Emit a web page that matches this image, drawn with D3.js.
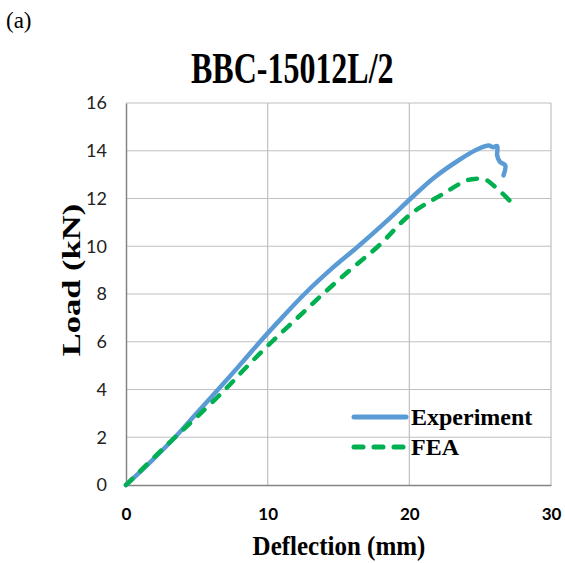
<!DOCTYPE html>
<html><head><meta charset="utf-8">
<script src="https://cdn.jsdelivr.net/npm/d3@7"></script>
<style>body{margin:0;background:#fff}svg{display:block}</style>
</head><body>
<script>
const title = "BBC-15012L/2";
const panelLabel = "(a)";
const xTitle = "Deflection (mm)";
const yTitle = "Load (kN)";
const xTicks = [0, 10, 20, 30];
const yTicks = [0, 2, 4, 6, 8, 10, 12, 14, 16];
const seriesNames = ["Experiment", "FEA"];
const expDeflection = [0, 1.7, 3.46, 5, 6.5, 8, 9.46, 11, 12.6, 14.5, 16.4, 18.3, 20.1, 21.7, 23.35, 24.77, 25.6, 25.9, 26.2, 26.2, 26.4, 26.77, 26.65];
const expLoad =       [0, 0.95, 2, 3.02, 4, 5, 6, 7, 8, 9.05, 10, 11, 12, 12.85, 13.55, 14.05, 14.22, 14.15, 14.2, 13.8, 13.53, 13.39, 12.97];
const feaDeflection = [0, 3.46, 5, 7.0, 8.6, 10.3, 12.1, 13.9, 15.8, 17.8, 20.1, 22.2, 24.06, 24.77, 25.35, 26.2, 27.1];
const feaLoad =       [0, 2, 2.85, 4, 5, 6, 7, 8, 9, 10, 11.35, 12.13, 12.76, 12.83, 12.8, 12.41, 11.9];

const W = 565, H = 563;
const svg = d3.select("body").append("svg").attr("width", W).attr("height", H);
const x = d3.scaleLinear().domain([0, 30]).range([126, 551]);
const y = d3.scaleLinear().domain([0, 16]).range([485, 103]);

// gridlines
svg.append("g").selectAll("line").data(yTicks.slice(1)).join("line")
  .attr("x1", x(0)).attr("x2", x(30)).attr("y1", d => y(d)).attr("y2", d => y(d))
  .attr("stroke", "#c0c0c0").attr("stroke-width", 1.2);
svg.append("g").selectAll("line").data(xTicks.slice(1)).join("line")
  .attr("x1", d => x(d)).attr("x2", d => x(d)).attr("y1", y(0)).attr("y2", y(16))
  .attr("stroke", "#c0c0c0").attr("stroke-width", 1.2);

// axes
const xAxis = d3.axisBottom(x).tickValues(xTicks).tickSize(0).tickPadding(23);
const yAxis = d3.axisLeft(y).tickValues(yTicks).tickSize(0).tickPadding(19);
const gx = svg.append("g").attr("transform", `translate(0,${y(0)})`).call(xAxis);
gx.select(".domain").attr("stroke", "#858585").attr("stroke-width", 1.5);
gx.selectAll("text").attr("font-family", "Lato, 'Open Sans', sans-serif").attr("font-weight", "bold").attr("font-size", 17).attr("fill", "#000");
const gy = svg.append("g").attr("transform", `translate(${x(0)},0)`).call(yAxis);
gy.select(".domain").attr("stroke", "#858585").attr("stroke-width", 1.5);
gy.selectAll("text").attr("font-family", "Lato, 'Open Sans', sans-serif").attr("font-size", 18).attr("fill", "#222");

// lines
const lineExp = d3.line().curve(d3.curveCatmullRom.alpha(0.5)).x((d, i) => x(expDeflection[i])).y((d, i) => y(expLoad[i]));
const lineFea = d3.line().curve(d3.curveCatmullRom).x((d, i) => x(feaDeflection[i])).y((d, i) => y(feaLoad[i]));
svg.append("path").datum(expLoad).attr("d", lineExp).attr("fill", "none")
  .attr("stroke", "#5b9bd5").attr("stroke-width", 4.5).attr("stroke-linejoin", "round").attr("stroke-linecap", "round");
svg.append("path").datum(feaLoad).attr("d", lineFea).attr("fill", "none")
  .attr("stroke", "#00b050").attr("stroke-width", 4.5).attr("stroke-dasharray", "9,11").attr("stroke-linecap", "round");

// legend
const serif = "'Liberation Serif', 'Times New Roman', serif";
const leg = svg.append("g");
leg.append("line").attr("x1", 354).attr("x2", 406).attr("y1", 417).attr("y2", 417)
  .attr("stroke", "#5b9bd5").attr("stroke-width", 5).attr("stroke-linecap", "round");
leg.append("line").attr("x1", 354).attr("x2", 406).attr("y1", 447).attr("y2", 447)
  .attr("stroke", "#00b050").attr("stroke-width", 5).attr("stroke-dasharray", "9,11").attr("stroke-linecap", "round");
leg.selectAll("text").data(seriesNames).join("text")
  .attr("x", 411).attr("y", (d, i) => 425 + i * 30)
  .attr("font-family", serif).attr("font-weight", "bold").attr("font-size", 24).text(d => d);

// titles
svg.append("text").attr("transform", "translate(191,83) scale(1,1.4)")
  .attr("font-family", serif).attr("font-weight", "bold").attr("font-size", 32).text(title);
svg.append("text").attr("x", 6).attr("y", 28)
  .attr("font-family", serif).attr("font-size", 23).text(panelLabel);
svg.append("text").attr("transform", "translate(339,555) scale(1,1.1)").attr("text-anchor", "middle")
  .attr("font-family", serif).attr("font-weight", "bold").attr("font-size", 25).text(xTitle);
svg.append("text").attr("transform", "translate(80,280) rotate(-90) scale(1.38,1)").attr("text-anchor", "middle")
  .attr("font-family", serif).attr("font-weight", "bold").attr("font-size", 25).text(yTitle);
</script>
</body></html>
